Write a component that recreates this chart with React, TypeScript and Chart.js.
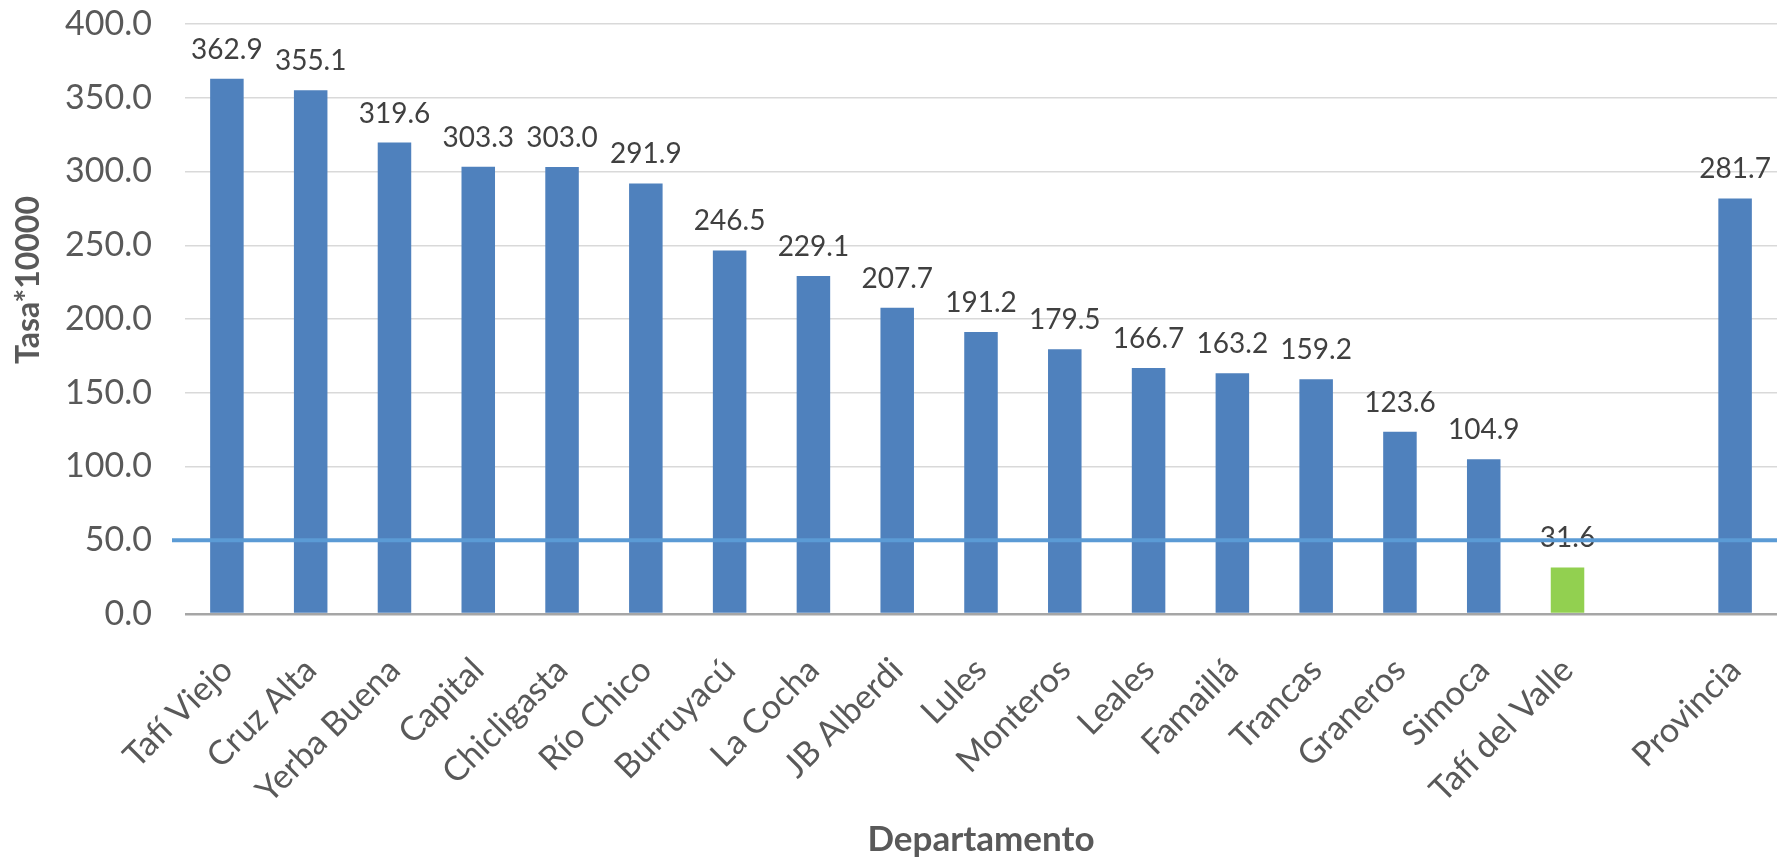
import React, { useEffect, useRef } from "react";
import { Chart, registerables } from "chart.js";

Chart.register(...registerables);

const CATEGORIES = [
  "Tafí Viejo",
  "Cruz Alta",
  "Yerba Buena",
  "Capital",
  "Chicligasta",
  "Río Chico",
  "Burruyacú",
  "La Cocha",
  "JB Alberdi",
  "Lules",
  "Monteros",
  "Leales",
  "Famaillá",
  "Trancas",
  "Graneros",
  "Simoca",
  "Tafí del Valle",
  "",
  "Provincia",
];

const VALUES: (number | null)[] = [
  362.9, 355.1, 319.6, 303.3, 303.0, 291.9, 246.5, 229.1, 207.7, 191.2, 179.5,
  166.7, 163.2, 159.2, 123.6, 104.9, 31.6, null, 281.7,
];

const THRESHOLD = 50;
const Y_MIN = 0;
const Y_MAX = 400;
const Y_STEP = 50;
const Y_TITLE = "Tasa*10000";
const X_TITLE = "Departamento";

const FONT = "Lato, 'Open Sans', sans-serif";
const W = 1792;
const H = 861;

export default function App() {
  const ref = useRef<HTMLCanvasElement | null>(null);

  useEffect(() => {
    if (!ref.current) return;

    const labelPlugin = {
      id: "valueLabels",
      afterDatasetsDraw(chart: any) {
        const ctx = chart.ctx;
        const meta = chart.getDatasetMeta(0);
        ctx.save();
        ctx.font = `28px ${FONT}`;
        ctx.fillStyle = "#404040";
        ctx.textAlign = "center";
        ctx.textBaseline = "alphabetic";
        meta.data.forEach((bar: any, i: number) => {
          const v = VALUES[i];
          if (v == null) return;
          ctx.fillText(v.toFixed(1), bar.x, bar.y - 20);
        });
        ctx.restore();
      },
    };

    const thresholdPlugin = {
      id: "thresholdLine",
      afterDraw(chart: any) {
        const ctx = chart.ctx;
        const y = chart.scales.y.getPixelForValue(THRESHOLD);
        const { left, right } = chart.chartArea;
        ctx.save();
        ctx.strokeStyle = "#5b9bd5";
        ctx.lineWidth = 4;
        ctx.beginPath();
        ctx.moveTo(left - 13, y);
        ctx.lineTo(right, y);
        ctx.stroke();
        ctx.restore();
      },
    };

    const yTitlePlugin = {
      id: "yTitle",
      afterDraw(chart: any) {
        const ctx = chart.ctx;
        const { top, bottom } = chart.chartArea;
        ctx.save();
        ctx.translate(29, (top + bottom) / 2 - 39);
        ctx.rotate(-Math.PI / 2);
        ctx.font = `bold 32px ${FONT}`;
        ctx.fillStyle = "#595959";
        ctx.textAlign = "center";
        ctx.textBaseline = "middle";
        ctx.fillText(Y_TITLE, 0, 0);
        ctx.restore();
      },
    };

    const chart = new Chart(ref.current, {
      type: "bar",
      data: {
        labels: CATEGORIES,
        datasets: [
          {
            data: VALUES as any,
            backgroundColor: (c: any) => {
              const v = VALUES[c.dataIndex];
              return v != null && v < THRESHOLD ? "#92d050" : "#4f81bd";
            },
            barPercentage: 0.4,
            categoryPercentage: 1.0,
          },
        ],
      },
      options: {
        responsive: false,
        animation: false,
        devicePixelRatio: 1,
        layout: { padding: { top: 24, right: 2, left: 0, bottom: 0 } },
        plugins: {
          legend: { display: false },
          tooltip: { enabled: false },
        },
        scales: {
          x: {
            grid: { display: false },
            border: { display: false },
            ticks: {
              autoSkip: false,
              maxRotation: 45,
              minRotation: 45,
              padding: 28,
              color: "#595959",
              font: { family: FONT, size: 34 },
            },
            title: {
              display: true,
              text: X_TITLE,
              color: "#595959",
              font: { family: FONT, size: 35, weight: "bold" },
              padding: { top: 0, bottom: 0 },
            },
            afterFit: (s: any) => {
              s.height = H - 614;
            },
          },
          y: {
            min: Y_MIN,
            max: Y_MAX,
            border: { display: false },
            grid: {
              drawTicks: true,
              tickLength: 33,
              tickColor: "rgba(0,0,0,0)",
              color: (c: any) => (c.tick && c.tick.value === 0 ? "#a6a6a6" : "#d9d9d9"),
              lineWidth: (c: any) => (c.tick && c.tick.value === 0 ? 2.5 : 1.5),
            },
            ticks: {
              stepSize: Y_STEP,
              padding: 0,
              color: "#595959",
              font: { family: FONT, size: 34 },
              callback: (v: any) => Number(v).toFixed(1),
            },
            title: { display: false },
            afterFit: (s: any) => {
              s.width = 185;
            },
          },
        },
      },
      plugins: [labelPlugin, thresholdPlugin, yTitlePlugin],
    } as any);

    return () => chart.destroy();
  }, []);

  return (
    <div
      style={{
        position: "fixed",
        left: 0,
        top: 0,
        width: W + "px",
        height: H + "px",
        background: "#ffffff",
      }}
    >
      <canvas ref={ref} width={W} height={H} style={{ width: W + "px", height: H + "px" }} />
    </div>
  );
}
